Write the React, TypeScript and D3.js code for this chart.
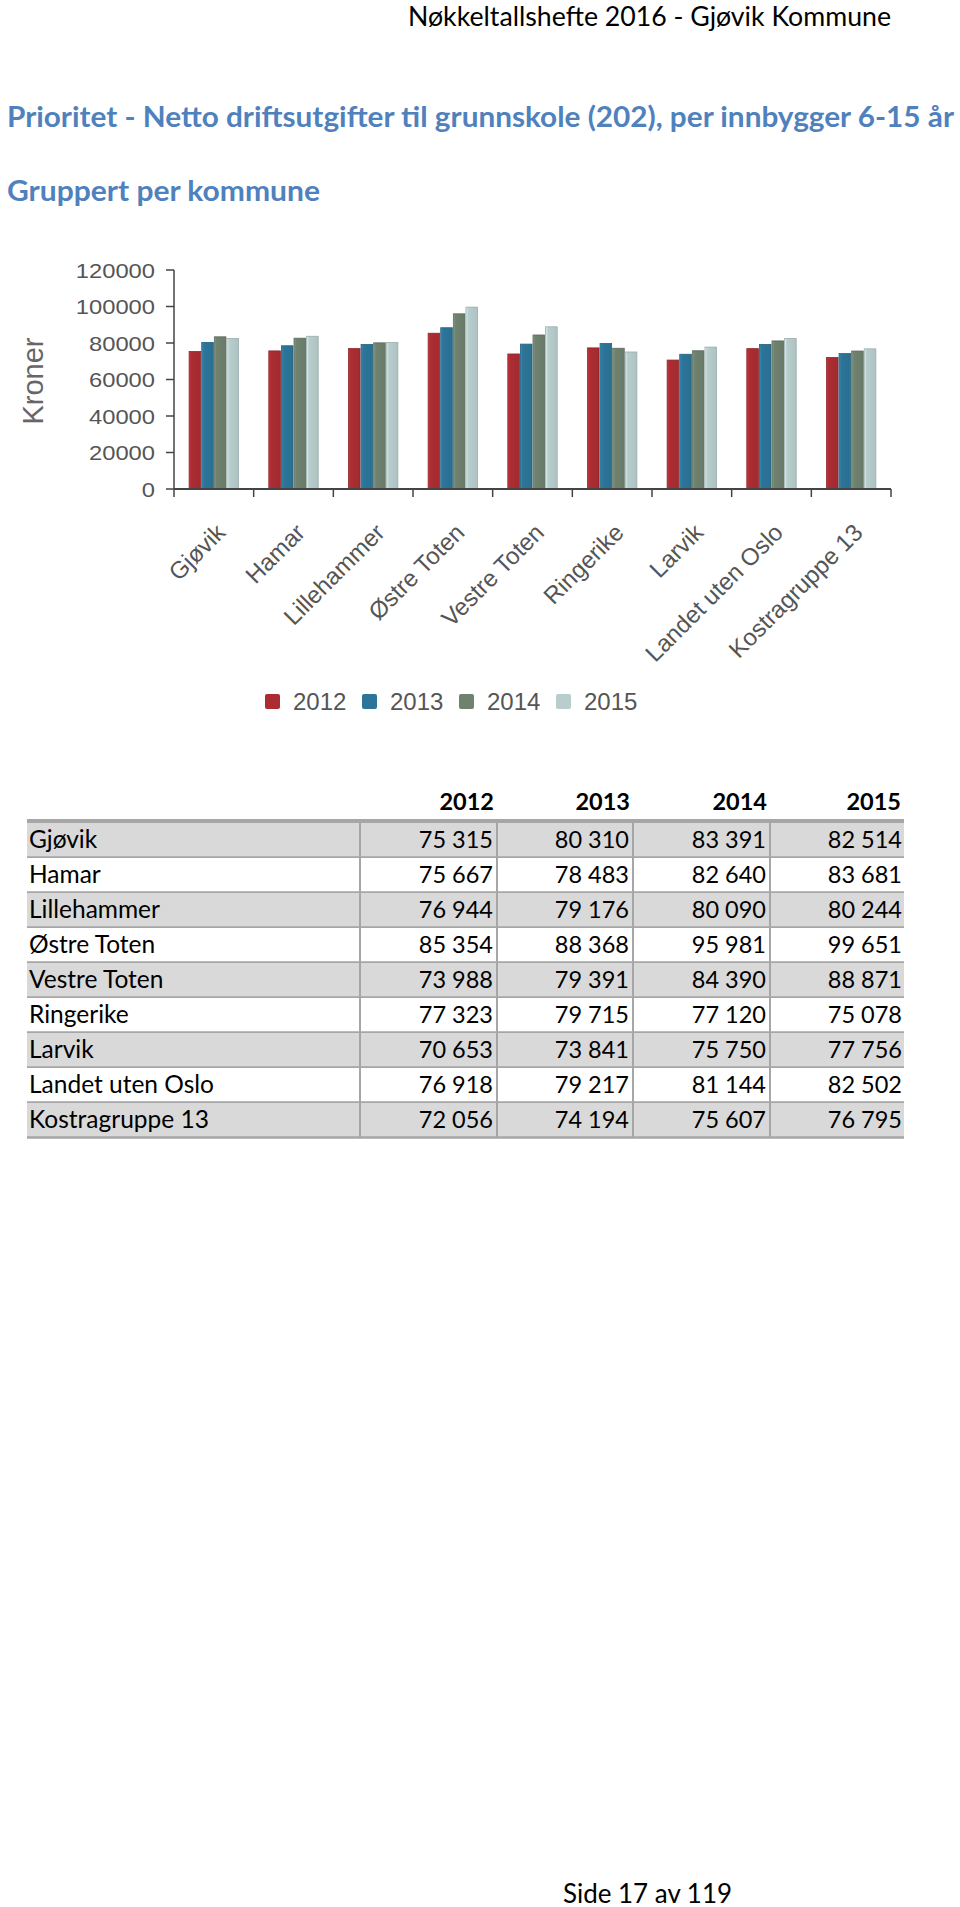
import React from "react";
import * as d3 from "d3";

const categories = ["Gjøvik", "Hamar", "Lillehammer", "Østre Toten", "Vestre Toten", "Ringerike", "Larvik", "Landet uten Oslo", "Kostragruppe 13"];
const years = ["2012", "2013", "2014", "2015"];
const v2012 = [75315, 75667, 76944, 85354, 73988, 77323, 70653, 76918, 72056];
const v2013 = [80310, 78483, 79176, 88368, 79391, 79715, 73841, 79217, 74194];
const v2014 = [83391, 82640, 80090, 95981, 84390, 77120, 75750, 81144, 75607];
const v2015 = [82514, 83681, 80244, 99651, 88871, 75078, 77756, 82502, 76795];
const yTicks = [0, 20000, 40000, 60000, 80000, 100000, 120000];
const colors = ["#ab2d33", "#2c7599", "#6f816f", "#b8cdcd"];

const series = [v2012, v2013, v2014, v2015];

const nb = d3.formatLocale({ decimal: ",", thousands: "\u00a0", grouping: [3], currency: ["", ""] });
const fmt = nb.format(",d");

export default function App() {
  const x = d3.scaleBand<string>().domain(categories).range([174, 891]);
  const bw = x.bandwidth();
  const x1 = d3.scaleBand<string>().domain(years).range([bw * 0.19, bw * 0.81]).paddingInner(0.08);
  const y = d3.scaleLinear().domain([0, 120000]).range([489, 270]);
  const axisColor = "#444";
  const textGrey = "#555";
  const chartFont = "'Liberation Sans', Arial, sans-serif";
  const docFont = "Lato, 'Open Sans', sans-serif";

  const boundaries = d3.range(categories.length + 1).map((i) => 174 + i * bw);

  // table layout
  const tLeft = 27, tRight = 904;
  const colEdges = [360, 497, 633, 770, 904];
  const headerLineY = 821;
  const rowH = 35;
  const rowTop0 = 823;

  return (
    <svg width={960} height={1907} style={{ position: "absolute", left: 0, top: 0, display: "block", background: "#fff" }}>
      <defs>
        {colors.map((c, i) => (
          <linearGradient key={i} id={`g${i}`} x1="0" x2="1" y1="0" y2="0">
            <stop offset="0" stopColor={d3.color(c)!.brighter(0.5).formatHex()} />
            <stop offset="0.2" stopColor={c} />
            <stop offset="1" stopColor={d3.color(c)!.darker(0.15).formatHex()} />
          </linearGradient>
        ))}
      </defs>
      <rect x={0} y={0} width={960} height={1907} fill="#fff" />
      {/* page header */}
      <text x={408} y={26} fontFamily={docFont} fontSize={26} textLength={483} lengthAdjust="spacingAndGlyphs" fill="#000">
        Nøkkeltallshefte 2016 - Gjøvik Kommune
      </text>
      <text x={7} y={127} fontFamily={docFont} fontWeight={700} fontSize={29} textLength={947} lengthAdjust="spacingAndGlyphs" fill="#4f81bd">
        Prioritet - Netto driftsutgifter til grunnskole (202), per innbygger 6-15 år
      </text>
      <text x={7} y={201} fontFamily={docFont} fontWeight={700} fontSize={29} textLength={313} lengthAdjust="spacingAndGlyphs" fill="#4f81bd">
        Gruppert per kommune
      </text>

      {/* chart */}
      <text transform="translate(43,381) rotate(-90)" textAnchor="middle" fontFamily={chartFont} fontSize={29} fill="#666">
        Kroner
      </text>
      {yTicks.map((t) => {
        const s = String(t);
        return (
          <g key={t}>
            <line x1={166} x2={174} y1={y(t)} y2={y(t)} stroke={axisColor} strokeWidth={1.5} />
            <text x={155} y={y(t) + 7.5} textAnchor="end" fontFamily={chartFont} fontSize={21} fill={textGrey} textLength={s.length * 13.2} lengthAdjust="spacingAndGlyphs">
              {s}
            </text>
          </g>
        );
      })}
      <line x1={174} x2={174} y1={y(120000)} y2={y(0)} stroke={axisColor} strokeWidth={1.5} />
      {categories.map((c, ci) => (
        <g key={c} transform={`translate(${x(c)},0)`}>
          {years.map((yr, si) => {
            const v = series[si][ci];
            return (
              <rect key={yr} x={x1(yr)} y={y(v)} width={x1.bandwidth()} height={y(0) - y(v)} fill={`url(#g${si})`} stroke={d3.color(colors[si])!.darker(0.5).formatHex()} strokeWidth={0.8} />
            );
          })}
        </g>
      ))}
      <line x1={174} x2={891} y1={y(0)} y2={y(0)} stroke={axisColor} strokeWidth={2} />
      {boundaries.map((b, i) => (
        <line key={i} x1={b} x2={b} y1={y(0)} y2={y(0) + 8} stroke={axisColor} strokeWidth={1.5} />
      ))}
      {categories.map((c) => {
        const ex = (x(c) as number) + bw / 2 + 13;
        const ey = 534;
        return (
          <text key={c} transform={`translate(${ex},${ey}) rotate(-45)`} textAnchor="end" fontFamily={chartFont} fontSize={24} fill={textGrey}>
            {c}
          </text>
        );
      })}
      {/* legend */}
      {years.map((yr, i) => {
        const lx = 265 + i * 97;
        return (
          <g key={yr}>
            <rect x={lx} y={694} width={15} height={15} rx={2} fill={colors[i]} />
            <text x={lx + 28} y={710} fontFamily={chartFont} fontSize={24} fill={textGrey}>
              {yr}
            </text>
          </g>
        );
      })}

      {/* table */}
      {years.map((yr, i) => (
        <text key={yr} x={colEdges[i + 1] - 3} y={810} textAnchor="end" fontFamily={docFont} fontWeight={700} fontSize={23.5} fill="#000">
          {yr}
        </text>
      ))}
      {categories.map((c, ri) => {
        const top = rowTop0 + ri * rowH;
        return (
          <g key={c}>
            <rect x={tLeft} y={top} width={tRight - tLeft} height={rowH} fill={ri % 2 === 0 ? "#d9d9d9" : "#ffffff"} />
            <line x1={tLeft} x2={tRight} y1={top + rowH - 0.5} y2={top + rowH - 0.5} stroke="#a6a6a6" strokeWidth={2.5} />
            <text x={tLeft + 2} y={top + 25} fontFamily={docFont} fontSize={24.5} fill="#000">
              {c}
            </text>
            {series.map((s, si) => (
              <text key={si} x={colEdges[si + 1] - (si === 3 ? 2 : 4)} y={top + 25} textAnchor="end" fontFamily={docFont} fontSize={23.5} fill="#000">
                {fmt(s[ri])}
              </text>
            ))}
          </g>
        );
      })}
      <line x1={tLeft} x2={tRight} y1={headerLineY} y2={headerLineY} stroke="#a6a6a6" strokeWidth={4} />
      {colEdges.slice(0, 4).map((cx) => (
        <line key={cx} x1={cx} x2={cx} y1={headerLineY} y2={rowTop0 + categories.length * rowH} stroke="#a6a6a6" strokeWidth={2} />
      ))}

      {/* footer */}
      <text x={563} y={1903} fontFamily={docFont} fontSize={26} textLength={169} lengthAdjust="spacingAndGlyphs" fill="#000">
        Side 17 av 119
      </text>
    </svg>
  );
}
